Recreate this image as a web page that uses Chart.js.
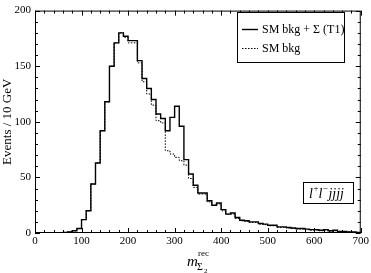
<!DOCTYPE html>
<html>
<head>
<meta charset="utf-8">
<script src="https://cdn.jsdelivr.net/npm/chart.js@4.4.0/dist/chart.umd.min.js"></script>
<style>
  html, body { margin: 0; padding: 0; background: #fff; }
  #wrap { width: 371px; height: 273px; }
</style>
</head>
<body>
<div id="wrap"><canvas id="histo"></canvas></div>
<script>
// bins are 10 GeV wide, starting at 0
var binWidth = 10;

// SM bkg + Sigma (T1), events per bin
var totalCounts = [
  0, 0, 0, 0, 0, 0, 0.5, 1, 2, 4,
  12, 20, 44, 63, 92, 118, 150, 171, 180, 177,
  173, 173, 155, 139, 130, 120, 107, 103, 92, 104,
  114, 96, 66, 53, 43, 36, 36, 29, 25, 27,
  21, 17, 18, 14, 11.5, 11, 10, 10, 8.5, 8,
  7, 7, 5.5, 5.5, 5, 4.5, 4, 4, 3.5, 3,
  3, 2.5, 3, 2, 2.5, 1.5, 1.5, 1, 1, 0.5
];

// SM bkg only
var bkgCounts = [
  0, 0, 0, 0, 0, 0, 0.5, 1, 2, 4,
  12, 20, 44, 63, 92, 118, 150, 171, 180, 176,
  171, 171, 153, 136, 125, 115, 101, 99, 74, 71,
  68, 65, 61, 49, 41, 35, 35, 28, 25, 26,
  20, 17, 17, 13, 11, 10.5, 9.5, 9.5, 8, 7.5,
  6.5, 6.5, 5, 5, 4.5, 4, 3.5, 3.5, 3, 2.5,
  2.5, 2, 2.5, 1.5, 2, 1, 1, 1, 0.5, 0.5
];

var seriesLabels = ['SM bkg + \u03A3 (T1)', 'SM bkg'];
var xMajor = [0, 100, 200, 300, 400, 500, 600, 700];
var yMajor = [0, 50, 100, 150, 200];
var xMinorStep = 20;
var yMinorStep = 10;

var serif = '"Liberation Serif", "DejaVu Serif", serif';

function toSteps(counts) {
  var pts = [];
  for (var i = 0; i < counts.length; i++) {
    pts.push({x: i * binWidth, y: counts[i]});
  }
  pts.push({x: counts.length * binWidth, y: counts[counts.length - 1]});
  return pts;
}

// frame, inward ticks on all four sides, legend, label box, x title
var framePlugin = {
  id: 'frame',
  afterDraw: function(chart) {
    var c = chart.ctx, a = chart.chartArea;
    var xs = chart.scales.x, ys = chart.scales.y;
    c.save();
    c.strokeStyle = '#000';
    c.lineWidth = 1;
    c.strokeRect(a.left + 0.5, a.top + 0.5, a.right - a.left - 1, a.bottom - a.top - 1);

    c.beginPath();
    for (var v = xs.min; v <= xs.max; v += xMinorStep) {
      var px = Math.round(xs.getPixelForValue(v)) + 0.5;
      var len = (v % 100 === 0) ? 5 : 3;
      c.moveTo(px, a.bottom); c.lineTo(px, a.bottom - len);
      c.moveTo(px, a.top); c.lineTo(px, a.top + len);
    }
    for (var w = ys.min; w <= ys.max; w += yMinorStep) {
      var py = Math.round(ys.getPixelForValue(w)) + 0.5;
      var l2 = (w % 50 === 0) ? 5 : 3;
      c.moveTo(a.left, py); c.lineTo(a.left + l2, py);
      c.moveTo(a.right, py); c.lineTo(a.right - l2, py);
    }
    c.stroke();

    // legend
    var lx = 237, ly = 12, lw = 107, lh = 50;
    c.fillStyle = '#fff';
    c.fillRect(lx, ly, lw, lh);
    c.strokeRect(lx + 0.5, ly + 0.5, lw, lh);
    var rows = [29, 48];
    chart.data.datasets.forEach(function(ds, i) {
      c.beginPath();
      c.lineWidth = ds.borderWidth;
      c.setLineDash(ds.borderDash || []);
      c.moveTo(242, rows[i] + 0.5); c.lineTo(258, rows[i] + 0.5);
      c.stroke();
      c.setLineDash([]);
      c.fillStyle = '#000';
      c.font = '12px ' + serif;
      c.textBaseline = 'middle';
      c.textAlign = 'left';
      c.fillText(ds.label, 262, rows[i] + 1);
    });

    // final state label
    c.lineWidth = 1;
    c.strokeRect(303.5, 182.5, 50, 21);
    c.fillStyle = '#000';
    c.textBaseline = 'alphabetic';
    var tx = 309;
    c.font = 'italic 14px ' + serif;
    c.fillText('l', tx, 198); tx += c.measureText('l').width + 0.5;
    c.font = '9px ' + serif;
    c.fillText('+', tx, 191); tx += c.measureText('+').width;
    c.font = 'italic 14px ' + serif;
    c.fillText('l', tx, 198); tx += c.measureText('l').width + 0.5;
    c.font = '9px ' + serif;
    c.fillText('\u2212', tx, 191); tx += c.measureText('\u2212').width + 0.5;
    c.font = 'italic 14px ' + serif;
    c.fillText('jjjj', tx, 198);

    // x axis title: m^rec_{Sigma_2}
    c.font = 'italic 15px ' + serif;
    c.fillText('m', 187, 266);
    c.font = '9px ' + serif;
    c.fillText('rec', 198, 256);
    c.font = '10px ' + serif;
    c.fillText('\u03A3', 197, 270);
    c.font = '7px ' + serif;
    c.fillText('2', 204, 273);
    c.restore();
  }
};

new Chart(document.getElementById('histo'), {
  type: 'line',
  data: {
    datasets: [{
      label: seriesLabels[0],
      data: toSteps(totalCounts),
      stepped: 'before',
      borderColor: '#000',
      borderWidth: 1.4,
      pointRadius: 0,
      fill: false
    }, {
      label: seriesLabels[1],
      data: toSteps(bkgCounts),
      stepped: 'before',
      borderColor: '#000',
      borderWidth: 1,
      borderDash: [1.5, 1.5],
      pointRadius: 0,
      fill: false
    }]
  },
  options: {
    responsive: true,
    maintainAspectRatio: false,
    animation: false,
    layout: { padding: { top: 5, right: 10, left: 0, bottom: 0 } },
    plugins: { legend: { display: false }, tooltip: { enabled: false } },
    scales: {
      x: {
        type: 'linear',
        min: 0, max: 700,
        afterBuildTicks: function(s) { s.ticks = xMajor.map(function(v) { return {value: v}; }); },
        afterFit: function(s) { s.height = 40; },
        grid: { display: false, drawTicks: false },
        border: { display: false },
        ticks: { color: '#000', padding: 2, maxRotation: 0, font: { family: serif, size: 11 } }
      },
      y: {
        min: 0, max: 200,
        afterBuildTicks: function(s) { s.ticks = yMajor.map(function(v) { return {value: v}; }); },
        afterFit: function(s) { s.width = 35; },
        grid: { display: false, drawTicks: false },
        border: { display: false },
        ticks: { color: '#000', padding: 4, font: { family: serif, size: 11 } },
        title: { display: true, text: 'Events / 10 GeV', color: '#000', padding: 0, font: { family: serif, size: 13 } }
      }
    }
  },
  plugins: [framePlugin]
});
</script>
</body>
</html>
